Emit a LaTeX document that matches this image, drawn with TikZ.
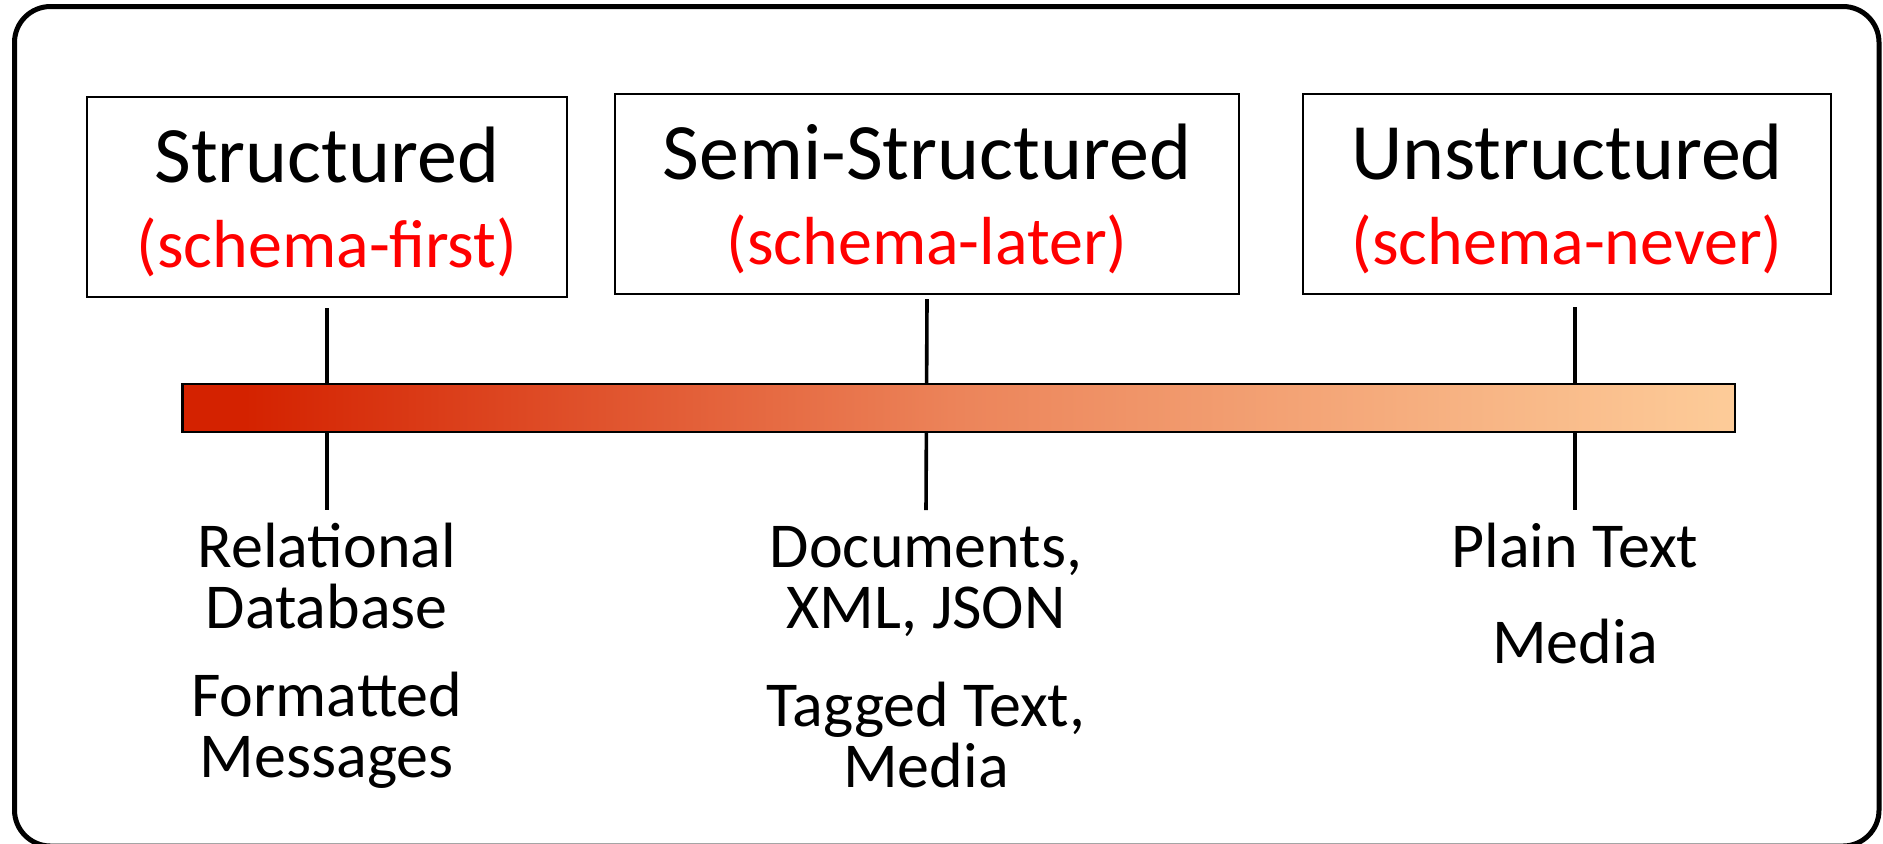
\documentclass[tikz,border=0pt]{standalone}
\usepackage{fontspec}
\setmainfont{Carlito}
\usetikzlibrary{positioning, calc}
\definecolor{barL}{RGB}{212,34,0}
\definecolor{barM}{RGB}{236,132,90}
\definecolor{barR}{RGB}{253,204,153}
\pgfdeclarehorizontalshading{barshade}{100bp}{color(0bp)=(barL); color(25bp)=(barL); color(27bp)=(barL); color(50bp)=(barM); color(75bp)=(barR); color(100bp)=(barR)}

\begin{document}
\begin{tikzpicture}[x=0.5pt,y=-0.5pt,
box/.style={draw,line width=1pt,inner sep=0pt,minimum height=100pt,align=center,font=\fontsize{40}{42.5}\selectfont},
note/.style={align=center,anchor=base,inner sep=0pt,font=\fontsize{32}{30.5}\selectfont},
tick/.style={line width=1.8pt},
]
\useasboundingbox (0,0) rectangle (1883,843);
\draw[line width=2.5pt,rounded corners=18pt] (14.5,6.5) rectangle (1879,846);

% the three kinds
\node[box,minimum width=240.25pt] (nS) at (326.8,197) {\rule{0pt}{33pt}Structured\\{\color{red}\fontsize{34}{42.5}\selectfont(schema-first)}};
\node[box,minimum width=312pt] (nM) at (927,194) {\rule{0pt}{33pt}Semi-Structured\\{\color{red}\fontsize{34}{42.5}\selectfont(schema-later)}};
\node[box,minimum width=264pt] (nU) at (1567,194) {\rule{0pt}{33pt}Unstructured\\{\color{red}\fontsize{34}{42.5}\selectfont(schema-never)}};

\coordinate (tS) at (326.8,510);
\coordinate (tM) at (926,510);
\coordinate (tU) at (1575,510);
\draw[tick] ([yshift=-5pt]nS.south) -- (tS);
\draw[tick] ([yshift=-2pt]nM.south) -- (tM);
\draw[tick] ([yshift=-6pt]nU.south -| tU) -- (tU);

% the scale
\node[draw,line width=1.2pt,shade,shading=barshade,inner sep=0pt,minimum width=776.25pt,minimum height=24pt] (bar) at (958.75,408) {};

% base of a two-line note is its last line
\node[note] (nR) at (326.8,628) {Relational\\Database};
\node[note] (nF) at (326.8,777) {Formatted\\Messages};
\node[note] (nD) at (926,628) {Documents,\\XML, JSON};
\node[note] (nT) at (926,787) {Tagged Text,\\Media};
\node[note] (nP) at (1575,567) {Plain Text};
\node[note] (nMe) at (1575,663) {Media};
\end{tikzpicture}
\end{document}
